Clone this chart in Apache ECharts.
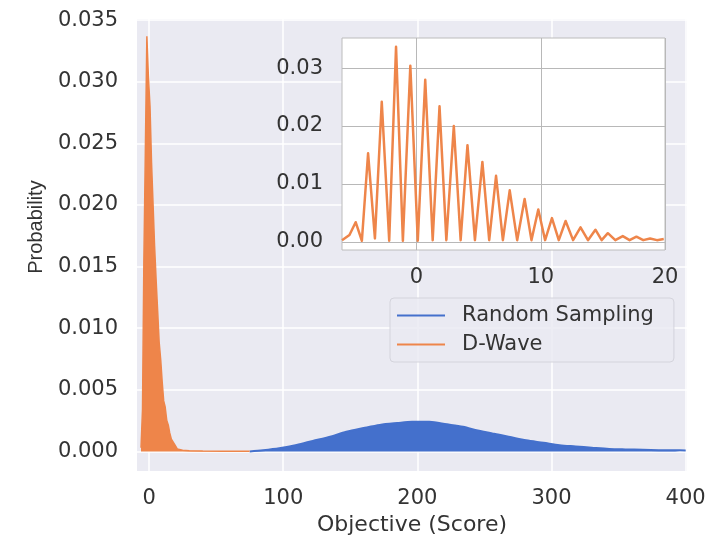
<!DOCTYPE html>
<html>
<head>
<meta charset="utf-8">
<script src="https://cdn.jsdelivr.net/npm/echarts@6/dist/echarts.min.js"></script>
<style>
html, body { margin: 0; padding: 0; background: #fff; }
#main { width: 725px; height: 541px; }
</style>
</head>
<body>
<div id="main"></div>
<script>
// D-Wave peaks
var peakX = [-4.9, -3.9, -2.8, -1.65, -0.5, 0.7, 1.85, 3.0, 4.1, 5.3, 6.4, 7.5, 8.7, 9.8, 10.9, 12.0, 13.2, 14.4, 15.4, 16.6, 17.7, 18.8, 19.9];
var peakY = [0.0034, 0.0153, 0.0242, 0.0337, 0.0304, 0.0280, 0.0234, 0.0200, 0.0167, 0.0138, 0.0114, 0.0089, 0.0074, 0.0056, 0.0041, 0.0036, 0.0025, 0.0021, 0.0015, 0.0010, 0.0009, 0.0006, 0.0005];
// D-Wave valleys between the peaks
var valleyX = [-6.0, -5.4, -4.4, -3.35, -2.2, -1.1, 0.1, 1.3, 2.4, 3.55, 4.7, 5.85, 6.95, 8.1, 9.25, 10.35, 11.45, 12.6, 13.8, 14.9, 16.0, 17.15, 18.25, 19.35];
var valleyY = [0.0003, 0.0012, 0.0002, 0.0006, 0.0002, 0.0002, 0.0002, 0.0003, 0.0003, 0.0003, 0.0003, 0.0003, 0.0003, 0.0003, 0.0003, 0.0003, 0.0003, 0.0003, 0.0003, 0.0003, 0.0003, 0.0003, 0.0003, 0.0003];
// D-Wave tail, only visible in the main plot
var tailX = [21, 25, 30, 40, 55, 75];
var tailY = [0.0002, 0.0001, 0.00005, 0.00003, 0.00002, 0.00001];
// Random Sampling envelope
var randX = [75, 85, 97, 110, 122, 135, 147, 160, 172, 185, 196, 209, 222, 234, 245, 256, 268, 281, 294, 306, 318, 330, 343, 355, 368, 380, 392, 400];
var randY = [0, 0.0001, 0.00026, 0.00052, 0.00085, 0.0012, 0.0016, 0.0019, 0.00215, 0.0023, 0.0024, 0.0024, 0.0022, 0.0020, 0.0017, 0.00145, 0.0012, 0.0009, 0.0007, 0.0005, 0.0004, 0.0003, 0.0002, 0.00016, 0.00013, 0.0001, 0.00009, 0.00008];

var mainXTicks = [0, 100, 200, 300, 400];
var mainYTicks = [0, 0.005, 0.01, 0.015, 0.02, 0.025, 0.03, 0.035];
var insetXTicks = [0, 10, 20];
var insetYTicks = [0, 0.01, 0.02, 0.03];

var blue = '#4470cc';
var orange = '#ee854a';
var font = 'DejaVu Sans';

function pairs(xs, ys) {
	var out = [];
	for (var i = 0; i < xs.length; i++) out.push([xs[i], ys[i]]);
	return out;
}

// inset: peaks and valleys in x order
var dwave = pairs(peakX, peakY).concat(pairs(valleyX, valleyY));
dwave.sort(function (a, b) { return a[0] - b[0]; });
// main plot: the spikes are too dense to see, so draw the envelope of the peaks
var dwaveMain = [[valleyX[0], valleyY[0]]].concat(pairs(peakX, peakY), pairs(tailX, tailY));
var rand = pairs(randX, randY);

var myChart = echarts.init(document.getElementById('main'));

var option = {
	animation: false,
	legend: {
		data: ['Random Sampling', 'D-Wave'],
		orient: 'vertical',
		left: 390,
		top: 298,
		z: 10,
		icon: 'rect',
		itemWidth: 48,
		itemHeight: 2,
		itemGap: 8,
		padding: [7, 20, 7, 7],
		backgroundColor: 'rgba(234,234,242,0.85)',
		borderColor: '#d4d4dc',
		borderWidth: 1,
		borderRadius: 4,
		textStyle: { fontFamily: font, fontSize: 21, color: '#333', padding: [0, 0, 0, 12] }
	},
	grid: [{
		left: 137, right: 38, top: 19, bottom: 68,
		show: true, backgroundColor: '#EAEAF2', borderWidth: 0, z: 0
	}, {
		left: 342, top: 38, width: 323, height: 212,
		show: true, backgroundColor: '#ffffff', borderColor: '#bcbcbc', borderWidth: 1, z: 5
	}],
	xAxis: [{
		type: 'value', gridIndex: 0, min: -9, max: 401, z: 1,
		name: 'Objective (Score)', nameLocation: 'middle', nameGap: 40,
		nameTextStyle: { fontFamily: font, fontSize: 22, color: '#333' },
		axisLine: { show: false },
		axisTick: { show: false, customValues: mainXTicks },
		axisLabel: { customValues: mainXTicks, margin: 17, fontFamily: font, fontSize: 21, color: '#333' },
		splitLine: { show: true, lineStyle: { color: '#ffffff', width: 1.5 } }
	}, {
		type: 'value', gridIndex: 1, min: -6, max: 20, z: 6,
		axisLine: { show: false },
		axisTick: { show: false, customValues: insetXTicks },
		axisLabel: { customValues: insetXTicks, margin: 17, fontFamily: font, fontSize: 21, color: '#333' },
		splitLine: { show: true, lineStyle: { color: '#b8b8b8', width: 1 } }
	}],
	yAxis: [{
		type: 'value', gridIndex: 0, min: -0.0016, max: 0.0351, z: 1,
		name: 'Probability', nameLocation: 'middle', nameGap: 90,
		nameTextStyle: { fontFamily: 'Liberation Sans', fontSize: 20, color: '#333', padding: [0, 0, 0, 36] },
		axisLine: { show: false },
		axisTick: { show: false, customValues: mainYTicks },
		axisLabel: {
			customValues: mainYTicks, margin: 19, fontFamily: font, fontSize: 21, color: '#333',
			formatter: function (v) { return v.toFixed(3); }
		},
		splitLine: { show: true, lineStyle: { color: '#ffffff', width: 1.5 } }
	}, {
		type: 'value', gridIndex: 1, min: -0.0014, max: 0.0352, z: 6,
		axisLine: { show: false },
		axisTick: { show: false, customValues: insetYTicks },
		axisLabel: {
			customValues: insetYTicks, margin: 19, fontFamily: font, fontSize: 21, color: '#333',
			formatter: function (v) { return v.toFixed(2); }
		},
		splitLine: { show: true, lineStyle: { color: '#b8b8b8', width: 1 } }
	}],
	series: [{
		name: 'Random Sampling', type: 'line', xAxisIndex: 0, yAxisIndex: 0, z: 2,
		data: rand, showSymbol: false, smooth: 0.3,
		lineStyle: { color: blue, width: 2 },
		itemStyle: { color: blue },
		areaStyle: { color: blue, opacity: 1 }
	}, {
		name: 'D-Wave', type: 'line', xAxisIndex: 0, yAxisIndex: 0, z: 3,
		data: dwaveMain, showSymbol: false,
		lineStyle: { color: orange, width: 1.5 },
		itemStyle: { color: orange },
		areaStyle: { color: orange, opacity: 1 }
	}, {
		name: 'D-Wave', type: 'line', xAxisIndex: 1, yAxisIndex: 1, z: 7,
		data: dwave, showSymbol: false,
		lineStyle: { color: orange, width: 2.5, join: 'round' },
		itemStyle: { color: orange }
	}]
};

myChart.setOption(option);
</script>
</body>
</html>
